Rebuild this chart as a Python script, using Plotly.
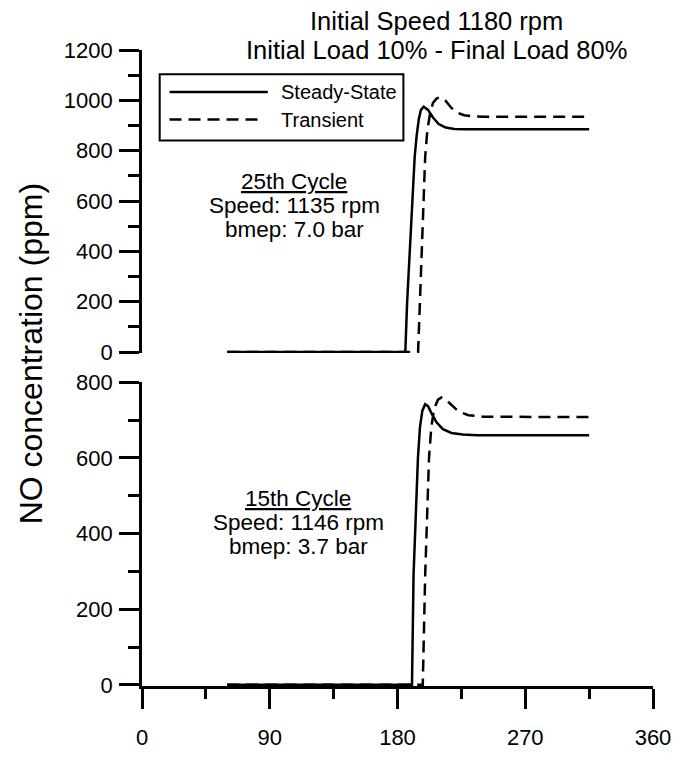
import plotly.graph_objects as go

# Crank angle (deg) and NO concentration (ppm)
# 25th cycle
ss25_angle = [60, 185.5, 186.8, 188.5, 190.3, 192.1, 193.5, 195, 196.5, 198.5, 201.5, 205, 209, 214, 220, 228, 315]
ss25_no = [0, 0, 200, 390, 590, 775, 860, 925, 962, 975, 962, 932, 906, 892, 886, 885, 885]
tr25_angle = [60, 194.5, 195.8, 197, 198.3, 199.5, 201, 203, 205, 207.5, 210, 214, 218, 222, 227, 233, 241, 315]
tr25_no = [0, 0, 200, 390, 590, 775, 880, 950, 990, 1007, 1012, 998, 970, 951, 941, 937, 935, 935]
# 15th cycle
ss15_angle = [60, 190.2, 191.3, 192.8, 194.4, 195.8, 197.5, 199.5, 201.5, 204, 207.5, 212, 218, 226, 236, 315]
ss15_no = [0, 0, 290, 450, 600, 680, 725, 742, 737, 718, 694, 676, 666, 662, 660, 660]
tr15_angle = [60, 197.8, 199.5, 200.8, 202.2, 203.8, 205.8, 208.5, 211, 214, 218, 223, 230, 240, 315]
tr15_no = [0, 0, 290, 450, 600, 680, 730, 754, 760, 754, 739, 723, 713, 709, 708]

x_ticks = [0, 90, 180, 270, 360]
y_ticks_top = [0, 200, 400, 600, 800, 1000, 1200]
y_ticks_bottom = [0, 200, 400, 600, 800]

series_names = ["Steady-State", "Transient"]
title_lines = ["Initial Speed 1180 rpm", "Initial Load 10% - Final Load 80%"]
top_note = ["<u>25th Cycle</u>", "Speed: 1135 rpm", "bmep: 7.0 bar"]
bottom_note = ["<u>15th Cycle</u>", "Speed: 1146 rpm", "bmep: 3.7 bar"]
y_title = "NO concentration (ppm)"

# page geometry (pixels)
FIG_W, FIG_H = 683, 762
M_L, M_R, M_T, M_B = 142, 21, 50, 58
PLOT_W = FIG_W - M_L - M_R
PLOT_H = FIG_H - M_T - M_B


def px(x, y):
    """Convert page pixel position to paper coordinates."""
    return (x - M_L) / PLOT_W, (FIG_H - M_B - y) / PLOT_H


FONT = "Arial, Liberation Sans, sans-serif"
AXW = 2.7          # axis line / tick width
LW = 2.5           # curve width
DASH = "12px,7px"

fig = go.Figure()

fig.add_trace(go.Scatter(x=ss25_angle, y=ss25_no, mode="lines", name=series_names[0],
                         line=dict(color="black", width=LW), xaxis="x", yaxis="y"))
fig.add_trace(go.Scatter(x=tr25_angle, y=tr25_no, mode="lines", name=series_names[1],
                         line=dict(color="black", width=LW, dash=DASH), xaxis="x", yaxis="y"))
fig.add_trace(go.Scatter(x=ss15_angle, y=ss15_no, mode="lines", name=series_names[0],
                         line=dict(color="black", width=LW), xaxis="x2", yaxis="y2"))
fig.add_trace(go.Scatter(x=tr15_angle, y=tr15_no, mode="lines", name=series_names[1],
                         line=dict(color="black", width=LW, dash=DASH), xaxis="x2", yaxis="y2"))

top_lo = px(0, 361.7)[1]
bot_hi = px(0, 391.7)[1]

yaxis_common = dict(
    showgrid=False, zeroline=False, showline=True, linecolor="black", linewidth=AXW,
    ticks="outside", ticklen=20, tickwidth=AXW, tickcolor="black", ticklabelstandoff=2,
    tickfont=dict(family=FONT, size=22, color="black"),
    minor=dict(ticks="outside", ticklen=11, tickwidth=AXW, tickcolor="black",
               dtick=100, tick0=0, showgrid=False),
)

fig.update_layout(
    width=FIG_W, height=FIG_H,
    margin=dict(l=M_L, r=M_R, t=M_T, b=M_B),
    paper_bgcolor="white", plot_bgcolor="white",
    showlegend=False,
    xaxis=dict(domain=[0, 1], anchor="y", range=[0, 360], visible=False),
    yaxis=dict(domain=[top_lo, 1], anchor="x", range=[-4, 1200],
               tickvals=y_ticks_top, **yaxis_common),
    xaxis2=dict(domain=[0, 1], anchor="y2", range=[0, 360], tickvals=x_ticks,
                showgrid=False, zeroline=False, showline=True, linecolor="black", linewidth=AXW,
                ticks="outside", ticklen=20, tickwidth=AXW, tickcolor="black",
                ticklabelstandoff=10,
                tickfont=dict(family=FONT, size=22, color="black"),
                minor=dict(ticks="outside", ticklen=10, tickwidth=AXW, tickcolor="black",
                           dtick=45, tick0=0, showgrid=False)),
    yaxis2=dict(domain=[0, bot_hi], anchor="x2", range=[-3, 800],
                tickvals=y_ticks_bottom, **yaxis_common),
)

annotations = []

# two-line heading
for text, ypix in zip(title_lines, [20, 50]):
    ax, ay = px(442, ypix)
    annotations.append(dict(text=text, x=ax, y=ay, xref="paper", yref="paper",
                            xanchor="center", yanchor="middle", showarrow=False,
                            font=dict(family=FONT, size=25.5, color="black")))

# cycle notes
for lines, xc, ys in [(top_note, 297, [185, 210, 235]), (bottom_note, 301, [511, 536, 561])]:
    for text, ypix in zip(lines, ys):
        ax, ay = px(xc, ypix)
        annotations.append(dict(text=text, x=ax, y=ay, xref="paper", yref="paper",
                                xanchor="center", yanchor="middle", showarrow=False,
                                font=dict(family=FONT, size=22.5, color="black")))

# y-axis title shared by both panels
ax, ay = px(29, 362)
annotations.append(dict(text=y_title, x=ax, y=ay, xref="paper", yref="paper",
                        xanchor="center", yanchor="middle", showarrow=False, textangle=-90,
                        font=dict(family=FONT, size=32, color="black")))

# legend box
shapes = []
x0, y0 = px(160, 75)
x1, y1 = px(408, 143)
shapes.append(dict(type="rect", xref="paper", yref="paper", x0=x0, y0=y1, x1=x1, y1=y0,
                   line=dict(color="black", width=2), fillcolor="white", layer="above"))
for name, dash, ypix, xend in [(series_names[0], "solid", 93.3, 270), (series_names[1], DASH, 121.5, 266)]:
    lx0, ly = px(170, ypix)
    lx1, _ = px(xend, ypix)
    shapes.append(dict(type="line", xref="paper", yref="paper", x0=lx0, x1=lx1, y0=ly, y1=ly,
                       line=dict(color="black", width=LW, dash=dash), layer="above"))
    tx, _ = px(281, ypix)
    annotations.append(dict(text=name, x=tx, y=ly, xref="paper", yref="paper",
                            xanchor="left", yanchor="middle", showarrow=False,
                            font=dict(family=FONT, size=20, color="black")))

fig.update_layout(annotations=annotations, shapes=shapes)

fig.write_html("out.html")
